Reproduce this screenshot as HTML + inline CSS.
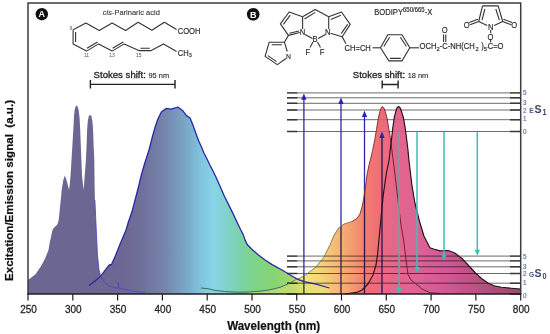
<!DOCTYPE html>
<html><head><meta charset="utf-8">
<style>
html,body{margin:0;padding:0;background:#fff;width:550px;height:334px;overflow:hidden}
svg{display:block}
text{font-family:"Liberation Sans",sans-serif}
</style></head>
<body>
<svg width="550" height="334" viewBox="0 0 550 334">
<defs>
<linearGradient id="spec" gradientUnits="userSpaceOnUse" x1="28" y1="0" x2="521" y2="0">
<stop offset="0.0000" stop-color="#6c6693"/>
<stop offset="0.1866" stop-color="#6d6794"/>
<stop offset="0.2373" stop-color="#70729c"/>
<stop offset="0.2779" stop-color="#7486ab"/>
<stop offset="0.3185" stop-color="#7aa6c6"/>
<stop offset="0.3489" stop-color="#80c2dc"/>
<stop offset="0.3753" stop-color="#88d3ea"/>
<stop offset="0.4016" stop-color="#80d2cc"/>
<stop offset="0.4300" stop-color="#7cd2a8"/>
<stop offset="0.4604" stop-color="#7ed488"/>
<stop offset="0.4868" stop-color="#8cd676"/>
<stop offset="0.5152" stop-color="#b8dc6e"/>
<stop offset="0.5436" stop-color="#e6e272"/>
<stop offset="0.5680" stop-color="#f6e67a"/>
<stop offset="0.5963" stop-color="#f6d27a"/>
<stop offset="0.6288" stop-color="#f5b676"/>
<stop offset="0.6572" stop-color="#f49c70"/>
<stop offset="0.6856" stop-color="#f27c70"/>
<stop offset="0.7140" stop-color="#ef6d75"/>
<stop offset="0.7444" stop-color="#e6668a"/>
<stop offset="0.7951" stop-color="#dc6296"/>
<stop offset="0.8458" stop-color="#d05a96"/>
<stop offset="0.8864" stop-color="#c2548a"/>
<stop offset="0.9371" stop-color="#b04e7c"/>
<stop offset="1.0000" stop-color="#9e4a6e"/>
</linearGradient>
<clipPath id="s1band"><rect x="280" y="100" width="250" height="34.5"/></clipPath>
<linearGradient id="gpem" gradientUnits="userSpaceOnUse" x1="89" y1="0" x2="330" y2="0">
<stop offset="0.0000" stop-color="#6c6693"/>
<stop offset="0.1494" stop-color="#6d6794"/>
<stop offset="0.2324" stop-color="#70729c"/>
<stop offset="0.3154" stop-color="#7486ab"/>
<stop offset="0.3983" stop-color="#7aa6c6"/>
<stop offset="0.4606" stop-color="#80c2dc"/>
<stop offset="0.5145" stop-color="#88d3ea"/>
<stop offset="0.5685" stop-color="#80d2cc"/>
<stop offset="0.6266" stop-color="#7cd2a8"/>
<stop offset="0.6888" stop-color="#7ed488"/>
<stop offset="0.7718" stop-color="#88d474"/>
<stop offset="0.8423" stop-color="#a0d66c"/>
<stop offset="0.9004" stop-color="#d8e070"/>
<stop offset="1.0000" stop-color="#f0e478"/>
</linearGradient>
<linearGradient id="gbex" gradientUnits="userSpaceOnUse" x1="245" y1="0" x2="440" y2="0">
<stop offset="0.0000" stop-color="#f2e27c"/>
<stop offset="0.3077" stop-color="#f6e47a"/>
<stop offset="0.3949" stop-color="#f6d27a"/>
<stop offset="0.4769" stop-color="#f5b676"/>
<stop offset="0.5487" stop-color="#f49c70"/>
<stop offset="0.6205" stop-color="#f27c70"/>
<stop offset="0.6923" stop-color="#ef6d75"/>
<stop offset="0.7692" stop-color="#e8688a"/>
<stop offset="1.0000" stop-color="#e06494"/>
</linearGradient>
<linearGradient id="gbem" gradientUnits="userSpaceOnUse" x1="345" y1="0" x2="521" y2="0">
<stop offset="0.0000" stop-color="#f0706e"/>
<stop offset="0.1420" stop-color="#ee6c78"/>
<stop offset="0.2273" stop-color="#ea6884"/>
<stop offset="0.2841" stop-color="#e5668c"/>
<stop offset="0.4261" stop-color="#dc6296"/>
<stop offset="0.5682" stop-color="#d05a96"/>
<stop offset="0.6818" stop-color="#c2548a"/>
<stop offset="0.8239" stop-color="#b04e7c"/>
<stop offset="1.0000" stop-color="#9e4a6e"/>
</linearGradient>
</defs>

<!-- energy levels -->
<g stroke="#5a5a5a" stroke-width="0.9" fill="none">
<path d="M287,92.9H521 M287,97.8H521 M287,103.3H521 M287,110H521 M287,119.7H521 M287,131.5H521"/>
<path d="M287,256.1H521 M287,260.9H521 M287,266.8H521 M287,273.5H521 M287,283.2H521"/>
</g>
<g stroke="#383838" stroke-width="1.4" fill="none">
<path d="M287,92.9H297.3 M287,97.8H297.3 M287,103.3H297.3 M287,110H297.3 M287,119.7H297.3 M287,131.5H297.3"/>
<path d="M287,256.1H297.3 M287,260.9H297.3 M287,266.8H297.3 M287,273.5H297.3 M287,283.2H297.3 M287,294H297.3"/>
<path d="M510,92.9H521 M510,97.8H521 M510,103.3H521 M510,110H521 M510,119.7H521 M510,131.5H521"/>
<path d="M510,256.1H521 M510,260.9H521 M510,266.8H521 M510,273.5H521 M510,283.2H521 M510,294H521"/>
</g>

<!-- excitation arrow shafts (under fills) -->
<g stroke="#2e2aa0" stroke-width="1.3" fill="none">
<path d="M303.9,294V98 M341,294V102 M364.5,294V115 M382,294V136"/>
</g>
<g style="mix-blend-mode:multiply">
<!-- Parinaric acid excitation -->
<path fill="#6c6693" d="M28,294 L28,280 L29,279.2 L32,277 L35.7,274 L38.7,269.5 L41.7,265 L44,260.5 L45.5,257.5 L48.5,250 L49.7,242.5 L50.8,238 L51.7,233.5 L52.7,229.5 L55,226.8 L57.2,224.8 L58.7,220 L59.5,212.5 L60.2,205 L61,197.5 L61.7,190 L63.3,180 L64.9,175.6 L66.5,180 L69.1,190 L70,182 L70.6,175 L71.5,160 L72.4,145 L73.3,130 L73.9,118 L74.6,110 L75.6,106.5 L76.6,105.4 L77.6,106.5 L78.6,110 L79.6,118 L80.2,130 L80.8,145 L81.4,160 L82,175 L83.5,190 L84.1,184 L85.9,160 L86.6,145 L87.1,130 L87.8,121 L88.8,116 L90.1,115 L91.4,116 L92.4,121 L93.1,130 L93.6,145 L94.3,160 L94.6,184 L94.9,200 L95.8,220 L97.4,253.7 L98.9,269.4 L100.7,276.2 L104.1,281.8 L109.7,286.3 L116.5,287.9 L125.4,289.7 L134.4,291.5 L145,292.4 L145,294 Z"/>
<!-- BODIPY excitation -->
<path id="bex" fill="url(#gbex)" d="M248.2,294 L248.2,292 L260,291.2 L270,289.8 L280.9,287.1 L297,279 L300,278.2 L306.3,274.4 L315.7,267.2 L323.6,257.7 L329.9,245.1 L334.6,234.1 L339.4,227.2 L344.1,224 L352,221.5 L357,218.5 L360,214 L362,207 L363.5,200 L365,190 L367,175 L369,165 L370.8,158 L372.6,150.3 L374.8,139.5 L376.6,128.7 L378.4,118 L379.9,111.5 L381,108.2 L382.5,106.6 L384,108.2 L385.3,111.5 L387,118 L388.8,128.7 L390.4,137.7 L392.5,155 L395,175 L398,200 L401,225 L403.6,240 L406,260 L408,274.5 L411,280 L415.5,283.6 L422,289 L430,292.7 L440,293.5 L440,294 Z"/>
<!-- Parinaric acid emission -->
<path id="aem" fill="url(#gpem)" d="M89,294 L89,285.6 L95.1,281.1 L100.7,276.2 L107.5,267.2 L109.3,265 L111.5,264.5 L115.3,256 L119.8,244.7 L123.5,236 L126,230 L128.4,222 L130.5,216 L132.5,210 L135.6,198 L138.7,186 L141.6,174 L145.1,162 L149.3,149 L152.6,136 L155.4,126.3 L157.8,119.2 L161.3,112 L166.1,108.4 L170.9,109.1 L178.1,107.2 L182.9,110.8 L186.5,115.6 L190.1,118 L192.5,124 L196.5,135 L198.7,141 L201.5,147 L203.9,153 L207,159 L209.9,165 L213,171 L215.9,177 L219.5,185 L224.4,196.3 L229.2,205.9 L232.8,213.1 L237.3,222.7 L240.8,230 L243.3,234.9 L245,239.9 L247.4,244.8 L252.4,249.8 L258.1,254.7 L264.7,259.7 L272.1,264.6 L281.2,269.5 L289.4,274.5 L297.7,279.4 L304.3,281.7 L316.9,284.4 L329.4,288 L329.4,294 Z"/>
<use href="#bex" opacity="0.38"/>
<!-- BODIPY emission -->
<path id="bem" fill="url(#gbem)" d="M345,294 L356.7,292.4 L362,290 L368,284 L373,275 L376,265 L377.5,255 L379.6,233 L381.3,215 L383.4,194 L386.4,173 L389.1,160 L390.2,150.3 L391.5,139.5 L392.7,128.7 L394.2,118 L395.8,111.3 L397,108 L398.6,106.3 L400.2,108 L401.5,111.3 L403.5,118 L405.3,128.7 L406.7,139.5 L408,150.3 L408.9,160 L411.9,185 L414.9,203 L419.4,221 L423.9,236 L429.9,247.8 L433.6,249 L440,250.9 L448.4,250.5 L454.7,253 L462,258.5 L469,266 L475.5,273 L481.5,278.5 L488,283 L494,285.8 L501.5,287.2 L511.2,288.2 L520.6,289 L520.6,294 Z"/>
</g>
<g clip-path="url(#s1band)" opacity="0.85"><use href="#bex"/><use href="#bem"/></g>
<!-- outlines -->
<g fill="none" stroke-linejoin="round">
<path stroke="#2a28a2" stroke-width="1.3" d="M89,285.6 L95.1,281.1 L100.7,276.2 L107.5,267.2 L109.3,265 L111.5,264.5 L115.3,256 L119.8,244.7 L123.5,236 L126,230 L128.4,222 L130.5,216 L132.5,210 L135.6,198 L138.7,186 L141.6,174 L145.1,162 L149.3,149 L152.6,136 L155.4,126.3 L157.8,119.2 L161.3,112 L166.1,108.4 L170.9,109.1 L178.1,107.2 L182.9,110.8 L186.5,115.6 L190.1,118 L192.5,124 L196.5,135 L198.7,141 L201.5,147 L203.9,153 L207,159 L209.9,165 L213,171 L215.9,177 L219.5,185 L224.4,196.3 L229.2,205.9 L232.8,213.1 L237.3,222.7 L240.8,230 L243.3,234.9 L245,239.9 L247.4,244.8 L252.4,249.8 L258.1,254.7 L264.7,259.7 L272.1,264.6 L281.2,269.5 L289.4,274.5 L297.7,279.4 L304.3,281.7 L316.9,284.4 L329.4,288"/>
<path stroke="#4a44c0" stroke-width="0.8" d="M94.9,200 L95.8,220 L97.4,253.7 L98.9,269.4 L100.7,276.2 L104.1,281.8 L109.7,286.3 L116.5,287.9 L118.3,288 L118.3,282.5 L118.8,288.2 L125.4,289.7 L134.4,291.5 L145,292.4"/>

<path stroke="#3f6a62" stroke-width="1" d="M200.9,288 L208,288.7 L215,290.4 L224.5,291.5 L236.4,292.2 L248.2,292 L260,291.2 L270,289.8 L280.9,287.1 L290,283"/>
<path stroke="#6e6a3c" stroke-width="0.8" d="M290,283 L297,279 L300,278.2 L306.3,274.4 L315.7,267.2 L323.6,257.7 L329.9,245.1 L334.6,234.1 L339.4,227.2 L344.1,224 L352,221.5"/>
<path stroke="#7a2a32" stroke-width="0.9" d="M352,221.5 L357,218.5 L360,214 L362,207 L363.5,200 L365,190 L367,175 L369,165 L370.8,158 L372.6,150.3 L374.8,139.5 L376.6,128.7 L378.4,118 L379.9,111.5 L381,108.2 L382.5,106.6 L384,108.2 L385.3,111.5 L387,118 L388.8,128.7 L390.4,137.7"/>
<path stroke="#6a1a2a" stroke-width="0.9" d="M390.4,137.7 L392.5,155 L395,175 L398,200 L401,225 L403.6,240 L406,260 L408,274.5 L411,280 L415.5,283.6 L422,289 L430,292.7 L440,293.5"/>
<path stroke="#2a0f1a" stroke-width="1.15" d="M345,294 L356.7,292.4 L362,290 L368,284 L373,275 L376,265 L377.5,255 L379.6,233 L381.3,215 L383.4,194 L386.4,173 L389.1,160 L390.2,150.3 L391.5,139.5 L392.7,128.7 L394.2,118 L395.8,111.3 L397,108 L398.6,106.3 L400.2,108 L401.5,111.3 L403.5,118 L405.3,128.7 L406.7,139.5 L408,150.3 L408.9,160 L411.9,185 L414.9,203 L419.4,221 L423.9,236 L429.9,247.8 L433.6,249 L440,250.9 L448.4,250.5 L454.7,253 L462,258.5 L469,266 L475.5,273 L481.5,278.5 L488,283 L494,285.8 L501.5,287.2 L511.2,288.2 L520.6,289"/>
</g>

<!-- excitation arrow heads -->
<g fill="#2a22b4">
<path d="M303.9,93.5 L301.2,99.8 L306.6,99.8 Z"/>
<path d="M341,97.6 L338.3,103.9 L343.7,103.9 Z"/>
<path d="M364.5,110.8 L361.8,117.1 L367.2,117.1 Z"/>
<path d="M382,131.6 L379.3,137.9 L384.7,137.9 Z"/>
</g>
<!-- emission arrows -->
<g stroke="#3cc0b4" stroke-width="1.5" fill="#3cc0b4">
<path stroke="#7f9aa2" stroke-width="1.7" d="M399,131.5V289"/><path stroke="none" d="M399,294 L396.3,288 L401.7,288 Z"/>
<path d="M417,131.5V268"/><path stroke="none" d="M417,273 L414.3,267 L419.7,267 Z"/>
<path d="M444,131.5V256"/><path stroke="none" d="M444,260.5 L441.3,254.5 L446.7,254.5 Z"/>
<path d="M477.3,131.5V251"/><path stroke="none" d="M477.3,255.8 L474.6,249.8 L480,249.8 Z"/>
</g>

<!-- frame -->
<path d="M28,294 V3 H520.7 V294" fill="none" stroke="#3c3c3c" stroke-width="1.5"/>
<path d="M27.3,294 H521.4" stroke="#1e1e1e" stroke-width="1.5"/>
<g stroke="#222" stroke-width="1.2">
<path d="M28.0,294v6.5 M72.8,294v6.5 M117.6,294v6.5 M162.4,294v6.5 M207.2,294v6.5 M252.0,294v6.5 M296.7,294v6.5 M341.5,294v6.5 M386.3,294v6.5 M431.1,294v6.5 M475.9,294v6.5 M520.7,294v6.5"/>
</g>
<g font-size="10" fill="#222" stroke="#222" stroke-width="0.25" text-anchor="middle" transform="translate(0,313.3) scale(1,1.07)">
<text x="28.5" y="0">250</text><text x="73.3" y="0">300</text><text x="118.1" y="0">350</text><text x="162.9" y="0">400</text><text x="207.7" y="0">450</text><text x="252.5" y="0">500</text><text x="297.2" y="0">550</text><text x="342.0" y="0">600</text><text x="386.8" y="0">650</text><text x="431.6" y="0">700</text><text x="476.4" y="0">750</text><text x="521.2" y="0">800</text>
</g>
<text transform="translate(273.6,329.8) scale(1,1.07)" font-size="11.6" font-weight="bold" fill="#111" stroke="#111" stroke-width="0.2" text-anchor="middle">Wavelength (nm)</text>
<text transform="translate(12.7,190.5) rotate(-90)" font-size="11.6" font-weight="bold" fill="#111" stroke="#111" stroke-width="0.2" text-anchor="middle" xml:space="preserve">Excitation/Emission signal  (a.u.)</text>

<!-- level labels -->
<g font-size="6.3" fill="#6878a4" stroke="#6878a4" stroke-width="0.2">
<text transform="translate(523,94.8) scale(1,1.07)">5</text><text transform="translate(523,104.7) scale(1,1.07)">3</text><text transform="translate(523,112.9) scale(1,1.07)">2</text><text transform="translate(523,121.1) scale(1,1.07)">1</text><text transform="translate(523,134) scale(1,1.07)">0</text>
<text transform="translate(523,258.6) scale(1,1.07)">5</text><text transform="translate(523,268.5) scale(1,1.07)">3</text><text transform="translate(523,276) scale(1,1.07)">2</text><text transform="translate(523,285.3) scale(1,1.07)">1</text><text transform="translate(523,297.5) scale(1,1.07)">0</text>
</g>
<g fill="#3f4872" font-weight="bold">
<text transform="translate(529.2,112.9) scale(0.95,1.1)" font-size="7" fill="#4a5278">E</text>
<text transform="translate(534.4,112.9) scale(1,1.1)" font-size="10.6">S</text>
<text transform="translate(542.4,115.3) scale(0.85,1.1)" font-size="8.4">1</text>
<text transform="translate(528.9,276.7) scale(0.95,1.1)" font-size="7" fill="#4a5278">G</text>
<text transform="translate(534.6,276.7) scale(1,1.1)" font-size="10.6">S</text>
<text transform="translate(542.6,279.4) scale(0.85,1.1)" font-size="8.6">0</text>
</g>

<!-- Stokes shifts -->
<g fill="#1e1e1e" stroke="#1e1e1e" stroke-width="0.3">
<text transform="translate(93.6,78) scale(1,1.03)" font-size="9.6">Stokes shift: <tspan font-size="7.4" stroke-width="0.1">95 nm</tspan></text>
<text transform="translate(352.8,77.8) scale(1,1.02)" font-size="9.6">Stokes shift: <tspan font-size="7.4" stroke-width="0.1">18 nm</tspan></text>
</g>
<g stroke="#222" stroke-width="1.4" fill="none">
<path d="M90.4,84.4H175 M90.4,80V88.5 M175,80V88.5"/>
<path d="M382.2,84.5H398.1 M382.2,80.5V88.6 M398.1,80.5V88.6"/>
</g>

<!-- panel badges -->
<circle cx="41.8" cy="14.2" r="6.2" fill="#111"/>
<text transform="translate(41.8,17.3) scale(1,1.07)" font-size="9" font-weight="bold" fill="#fff" text-anchor="middle">A</text>
<circle cx="253.2" cy="14.3" r="6.3" fill="#111"/>
<text transform="translate(253.2,17.5) scale(1,1.07)" font-size="9" font-weight="bold" fill="#fff" text-anchor="middle">B</text>

<!-- cis-parinaric acid -->
<text transform="translate(102.8,14.8) scale(1,1.07)" font-size="7.5" fill="#333" stroke="#333" stroke-width="0.1"><tspan font-style="italic">cis</tspan>-Parinaric acid</text>
<g stroke="#333" stroke-width="1.1" fill="none" stroke-linejoin="round">
<path d="M73.1,29.8 L85.9,23.1 L99.3,30.5 L112.1,23.1 L125.6,30.5 L138.1,22.3 L151.9,30.3 L164.3,22.3 L176.6,29.5"/>
<path d="M73.1,29.8 V43.9 L86.5,51.1 L98.6,43.9 L112.1,51.1 L124.2,43.9 L138.8,50.6 H151.2 L163.5,44.1 L176.6,51.4"/>
<path d="M75.6,32 V42 M87,48.3 L97.5,42 M112.6,48.3 L123.2,42 M140.5,48.3 H149.8"/>
</g>
<g fill="#2a2a2a" stroke="#2a2a2a" stroke-width="0.15">
<text transform="translate(177.7,33.9) scale(1,1.07)" font-size="7.6">COOH</text>
<text transform="translate(177.7,55.7) scale(1,1.07)" font-size="7.6">CH<tspan font-size="5.5" dy="1.3">3</tspan></text>
<text transform="translate(69.6,30.4) scale(1,1.07)" font-size="5" stroke="none" fill="#555">9</text>
<text transform="translate(86.5,57) scale(1,1.07)" font-size="5" text-anchor="middle" stroke="none" fill="#555">11</text>
<text transform="translate(112.1,57) scale(1,1.07)" font-size="5" text-anchor="middle" stroke="none" fill="#555">13</text>
<text transform="translate(138.8,57) scale(1,1.07)" font-size="5" text-anchor="middle" stroke="none" fill="#555">15</text>
</g>

<!-- BODIPY structure -->
<g stroke="#333" stroke-width="1.1" fill="none" stroke-linejoin="round">
<!-- left pyrrole -->
<path d="M302.6,16.7 L289.1,12 L280.4,23.9 L288.4,35.4 L299.8,32.5"/>
<path d="M290.2,15.2 L283.4,24.4 M289.5,33.2 L299,31"/>
<path d="M302.6,16.7 V29"/>
<!-- six ring -->
<path d="M302.6,16.7 L315.2,9.5 L328.7,16.7 M304.5,19 L315.2,12.4"/>
<path d="M305,34.5 L312.5,38.5 M318,38.5 L325.5,34.5"/>
<path d="M328.7,16.7 V29"/>
<!-- right pyrrole -->
<path d="M328.7,16.7 L341.5,12 L350.2,24.4 L342.2,36.7 L330.5,33.2"/>
<path d="M347.6,24.4 L341.2,33.6 M330.8,19.4 L340.8,15.2"/>
<path d="M342.2,36.7 L346,43.8"/>
<!-- BF2 -->
<path d="M313,42 L310,47.5 M317.5,42 L320.5,47.5"/>
<!-- lower pyrrole -->
<path d="M288.3,35.6 L284.4,42.2 L269.2,42.2 L265.1,56.4 L277.3,64.6 L286,58.5"/>
<path d="M284.4,42.2 L287.2,51.5"/>
<path d="M271.7,44.7 H281.9 M267.8,55.6 L276.6,61.6"/>
<!-- vinyl to benzene -->
<path d="M372.5,47.8 H380.5"/>
<path d="M380.5,47.8 L387.8,34.7 H402 L409.8,47.8 L402,60.9 H388.9 Z"/>
<path d="M383.8,46.5 L389.6,37.2 M400.4,37.2 L406.4,46.5 M390,58.4 H400.8"/>
<path d="M409.8,47.8 H419"/>
<!-- carbonyl -->
<path d="M443.6,42 V34.5 M445.8,42 V34.5"/>
<!-- maleimide -->
<path d="M482.5,5.9 H498.2 L502.7,21.5 L494.2,25.6 M487.2,25.6 L478.7,21.5 L482.5,5.9"/>
<path d="M484.9,9 L482,20.2 M495.8,9 L499.4,20.2"/>
<path d="M478.7,21.5 L470,24.8 M477.9,19.2 L469.3,22.5 M502.7,21.5 L511.3,24.8 M503.5,19.2 L512,22.5"/>
<path d="M490.7,30 V33.3 M490.6,39.6 V42.2"/>
</g>
<g fill="#2a2a2a" stroke="#2a2a2a" stroke-width="0.15" font-size="7.6">
<text transform="translate(299.8,34.8) scale(1,1.07)">N</text>
<text transform="translate(325,34.8) scale(1,1.07)">N</text>
<text transform="translate(312.6,41.8) scale(1,1.07)">B</text>
<text transform="translate(305.6,55.3) scale(1,1.07)">F</text>
<text transform="translate(319.8,55.3) scale(1,1.07)">F</text>
<text transform="translate(285.9,59) scale(1,1.07)" font-size="6.8">N</text>
<text transform="translate(344.5,50.5) scale(1,1.07)">CH=CH</text>
<text transform="translate(374.3,15) scale(1,1.07)" font-size="7.6">BODIPY<tspan font-size="6" dy="-2.9">650/665</tspan><tspan dy="2.9">-X</tspan></text>
<text transform="translate(419.6,49) scale(1,1.07)">OCH<tspan font-size="5.8" dy="1.5">2</tspan><tspan dy="-1.5">-C-NH(CH</tspan><tspan font-size="5.8" dy="1.5" x="55.9">2</tspan><tspan dy="-1.5" x="61.6">)</tspan><tspan font-size="5.8" dy="1.5" x="64.2">5</tspan><tspan dy="-1.5" x="67.6" font-size="5">-</tspan><tspan x="68.1">C=O</tspan></text>
<text transform="translate(441.8,33) scale(1,1.07)">O</text>
<text transform="translate(463.7,28.1) scale(1,1.07)">O</text>
<text transform="translate(511.2,28.1) scale(1,1.07)">O</text>
<text transform="translate(488,29.6) scale(1,1.07)">N</text>
<text transform="translate(487.6,39.6) scale(1,1.07)">O</text>
</g>
</svg>
</body></html>
